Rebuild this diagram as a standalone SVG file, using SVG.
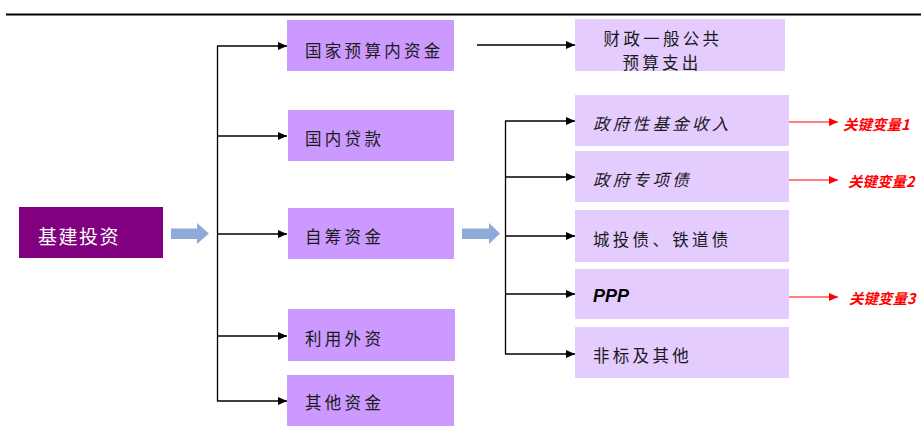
<svg xmlns="http://www.w3.org/2000/svg" width="921" height="433" viewBox="0 0 921 433">
  <style>
    .t { font-family: "Noto Sans CJK SC", "Liberation Sans", sans-serif; font-size: 16.5px; fill: #1a1a1a; letter-spacing: 3.3px; dominant-baseline: central; }
    .it { font-style: italic; }
    .red { font-family: "Noto Sans CJK SC", "Liberation Sans", sans-serif; font-size: 14.5px; font-style: italic; font-weight: bold; fill: #ff0000; dominant-baseline: central; }
    .dark { fill: #cc99ff; }
    .light { fill: #e4ccff; }
    .ln { stroke: #000; stroke-width: 1.3; fill: none; }
    .rl { stroke: #ff0000; stroke-width: 1.2; fill: none; }
    .blk { fill: #8eaadb; }
  </style>
  <defs>
    <marker id="ah" markerWidth="9" markerHeight="8" refX="9" refY="4" orient="auto" markerUnits="userSpaceOnUse">
      <path d="M0,0 L9,4 L0,8 Z" fill="#000"/>
    </marker>
    <marker id="ahr" markerWidth="9" markerHeight="8" refX="9" refY="4" orient="auto" markerUnits="userSpaceOnUse">
      <path d="M0,0 L9,4 L0,8 Z" fill="#ff0000"/>
    </marker>
  </defs>

  <rect x="0" y="0" width="921" height="433" fill="#ffffff"/>
  <line x1="6" y1="14.5" x2="921" y2="14.5" stroke="#000" stroke-width="2.2"/>

  <g id="connectors">
    <polygon class="blk" points="171,228.5 197,228.5 197,223 209,233.5 197,244 197,239 171,239"/>
    <polygon class="blk" points="462,228.5 489,228.5 489,223 500,233.5 489,244 489,239 462,239"/>
    <line class="ln" x1="217.5" y1="46" x2="217.5" y2="401"/>
    <line class="ln" x1="217" y1="46" x2="287" y2="46" marker-end="url(#ah)"/>
    <line class="ln" x1="217" y1="136" x2="287" y2="136" marker-end="url(#ah)"/>
    <line class="ln" x1="217" y1="234" x2="287" y2="234" marker-end="url(#ah)"/>
    <line class="ln" x1="217" y1="336" x2="287" y2="336" marker-end="url(#ah)"/>
    <line class="ln" x1="217" y1="401" x2="287" y2="401" marker-end="url(#ah)"/>
    <line class="ln" x1="477" y1="45" x2="575" y2="45" marker-end="url(#ah)"/>
    <line class="ln" x1="505.5" y1="121" x2="505.5" y2="354"/>
    <line class="ln" x1="505" y1="121" x2="575" y2="121" marker-end="url(#ah)"/>
    <line class="ln" x1="505" y1="177" x2="575" y2="177" marker-end="url(#ah)"/>
    <line class="ln" x1="505" y1="236" x2="575" y2="236" marker-end="url(#ah)"/>
    <line class="ln" x1="505" y1="294" x2="575" y2="294" marker-end="url(#ah)"/>
    <line class="ln" x1="505" y1="354" x2="575" y2="354" marker-end="url(#ah)"/>
    <line class="rl" x1="788" y1="122" x2="838" y2="122" marker-end="url(#ahr)"/>
    <line class="rl" x1="788" y1="180" x2="838" y2="180" marker-end="url(#ahr)"/>
    <line class="rl" x1="788" y1="297" x2="838" y2="297" marker-end="url(#ahr)"/>
  </g>

  <g id="n-jijian">
    <rect x="19" y="207" width="144" height="51" fill="#800080"/>
    <text x="38" y="235" class="t" style="fill:#ffffff;font-size:19px;letter-spacing:1.5px">基建投资</text>
  </g>

  <g id="n-guojia">
    <rect class="dark" x="287" y="20" width="167" height="51"/>
    <text x="305" y="50" class="t">国家预算内资金</text>
  </g>
  <g id="n-guonei">
    <rect class="dark" x="288" y="110" width="166" height="51"/>
    <text x="305" y="138" class="t">国内贷款</text>
  </g>
  <g id="n-zichou">
    <rect class="dark" x="288" y="208" width="166" height="51"/>
    <text x="305" y="236" class="t">自筹资金</text>
  </g>
  <g id="n-liyong">
    <rect class="dark" x="288" y="309" width="167" height="52"/>
    <text x="305" y="338" class="t">利用外资</text>
  </g>
  <g id="n-qita">
    <rect class="dark" x="287" y="375" width="167" height="51"/>
    <text x="305" y="402" class="t">其他资金</text>
  </g>

  <g id="n-caizheng">
    <rect class="light" x="575" y="19" width="210" height="52"/>
    <text x="663" y="38" class="t" text-anchor="middle">财政一般公共</text>
    <text x="662" y="62" class="t" text-anchor="middle">预算支出</text>
  </g>

  <g id="n-jijin">
    <rect class="light" x="575" y="95" width="214" height="51"/>
    <text x="593" y="123" class="t it">政府性基金收入</text>
  </g>
  <g id="n-zhuanxiang">
    <rect class="light" x="575" y="151" width="214" height="51"/>
    <text x="593" y="179" class="t it">政府专项债</text>
  </g>
  <g id="n-chengtou">
    <rect class="light" x="575" y="210" width="214" height="52"/>
    <text x="593" y="239" class="t">城投债、铁道债</text>
  </g>
  <g id="n-ppp">
    <rect class="light" x="575" y="269" width="214" height="50"/>
    <text x="593" y="296" style="font-family:'Liberation Sans',Arial,sans-serif;font-size:18px;font-style:italic;font-weight:bold;fill:#000;dominant-baseline:central">PPP</text>
  </g>
  <g id="n-feibiao">
    <rect class="light" x="575" y="327" width="214" height="51"/>
    <text x="593" y="355" class="t">非标及其他</text>
  </g>

  <g id="labels">
    <text x="843" y="123" class="red">关键变量1</text>
    <text x="848" y="180" class="red">关键变量2</text>
    <text x="849" y="297" class="red">关键变量3</text>
  </g>
</svg>
